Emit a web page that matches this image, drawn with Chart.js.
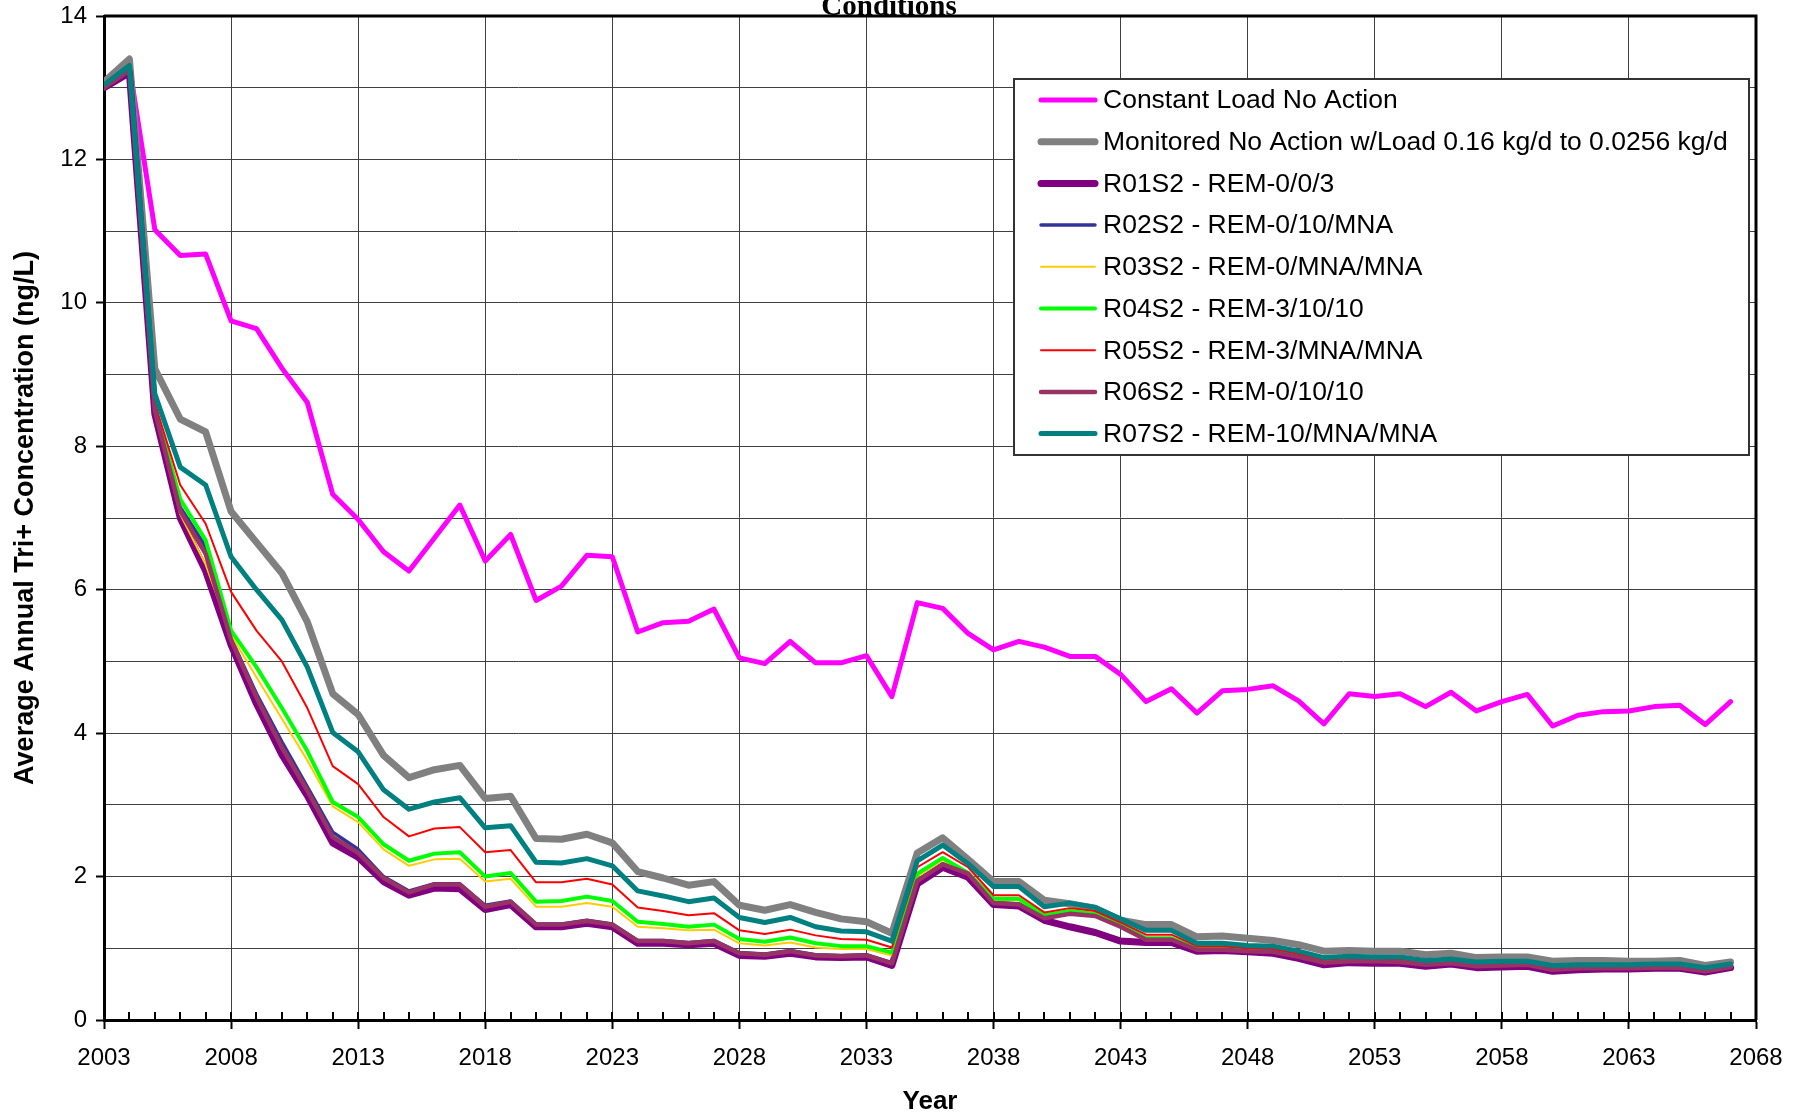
<!DOCTYPE html>
<html>
<head>
<meta charset="utf-8">
<script src="https://cdn.jsdelivr.net/npm/chart.js@4.4.1/dist/chart.umd.min.js"></script>
<style>
  html, body { margin: 0; padding: 0; background: #fff; }
</style>
</head>
<body>
<canvas id="canvasid" width="1808" height="1117"></canvas>
<script>
const years = [2003, 2004, 2005, 2006, 2007, 2008, 2009, 2010, 2011, 2012,
  2013, 2014, 2015, 2016, 2017, 2018, 2019, 2020, 2021, 2022,
  2023, 2024, 2025, 2026, 2027, 2028, 2029, 2030, 2031, 2032,
  2033, 2034, 2035, 2036, 2037, 2038, 2039, 2040, 2041, 2042,
  2043, 2044, 2045, 2046, 2047, 2048, 2049, 2050, 2051, 2052,
  2053, 2054, 2055, 2056, 2057, 2058, 2059, 2060, 2061, 2062,
  2063, 2064, 2065, 2066, 2067];

const constantLoad = [13.0, 13.3, 11.02, 10.66, 10.68, 9.75, 9.64, 9.09, 8.61, 7.33,
  6.98, 6.53, 6.26, 6.72, 7.18, 6.40, 6.77, 5.85, 6.05, 6.48,
  6.46, 5.41, 5.54, 5.56, 5.73, 5.05, 4.97, 5.28, 4.98, 4.98,
  5.08, 4.51, 5.82, 5.74, 5.39, 5.16, 5.28, 5.20, 5.07, 5.07,
  4.82, 4.44, 4.62, 4.28, 4.59, 4.61, 4.66, 4.45, 4.13, 4.55,
  4.51, 4.55, 4.37, 4.57, 4.31, 4.44, 4.54, 4.10, 4.25, 4.30,
  4.31, 4.37, 4.39, 4.12, 4.44];

const monitoredLoad = [13.08, 13.40, 9.08, 8.38, 8.20, 7.09, 6.66, 6.23, 5.55, 4.55,
  4.26, 3.69, 3.38, 3.49, 3.55, 3.09, 3.12, 2.53, 2.52, 2.59,
  2.47, 2.07, 1.98, 1.88, 1.93, 1.60, 1.53, 1.61, 1.50, 1.41,
  1.37, 1.21, 2.33, 2.54, 2.24, 1.93, 1.93, 1.67, 1.62, 1.56,
  1.39, 1.33, 1.33, 1.16, 1.17, 1.14, 1.11, 1.05, 0.96, 0.97,
  0.96, 0.96, 0.91, 0.93, 0.87, 0.88, 0.88, 0.82, 0.83, 0.83,
  0.82, 0.82, 0.83, 0.76, 0.81];

const r01 = [13.0, 13.21, 8.45, 7.0, 6.26, 5.23, 4.41, 3.70, 3.13, 2.47,
  2.27, 1.93, 1.74, 1.84, 1.83, 1.54, 1.61, 1.30, 1.30, 1.35,
  1.30, 1.07, 1.07, 1.05, 1.07, 0.90, 0.89, 0.93, 0.88, 0.87,
  0.88, 0.76, 1.90, 2.13, 1.99, 1.61, 1.59, 1.39, 1.30, 1.22,
  1.10, 1.08, 1.08, 0.96, 0.97, 0.95, 0.93, 0.86, 0.77, 0.80,
  0.79, 0.79, 0.75, 0.78, 0.73, 0.74, 0.75, 0.68, 0.70, 0.71,
  0.71, 0.72, 0.72, 0.67, 0.73];

const r02 = [13.0, 13.23, 8.5, 7.15, 6.6, 5.32, 4.55, 3.88, 3.25, 2.62,
  2.38, 2.0, 1.80, 1.90, 1.90, 1.60, 1.66, 1.34, 1.34, 1.39,
  1.34, 1.11, 1.11, 1.08, 1.11, 0.94, 0.92, 0.97, 0.91, 0.90,
  0.91, 0.80, 1.95, 2.18, 2.05, 1.64, 1.62, 1.43, 1.49, 1.46,
  1.31, 1.13, 1.13, 0.99, 0.99, 0.97, 0.96, 0.89, 0.81, 0.83,
  0.83, 0.82, 0.78, 0.80, 0.76, 0.77, 0.78, 0.71, 0.73, 0.73,
  0.73, 0.74, 0.74, 0.69, 0.75];

const r03 = [13.0, 13.25, 8.5, 7.05, 6.35, 5.37, 4.78, 4.20, 3.62, 2.98,
  2.76, 2.38, 2.15, 2.24, 2.25, 1.93, 1.97, 1.58, 1.58, 1.63,
  1.58, 1.30, 1.28, 1.25, 1.26, 1.07, 1.04, 1.08, 1.01, 0.99,
  0.99, 0.90, 2.00, 2.23, 2.03, 1.67, 1.67, 1.44, 1.50, 1.46,
  1.31, 1.12, 1.12, 0.99, 0.99, 0.97, 0.96, 0.89, 0.81, 0.83,
  0.83, 0.83, 0.78, 0.80, 0.76, 0.77, 0.77, 0.71, 0.72, 0.72,
  0.72, 0.73, 0.73, 0.68, 0.74];

const r04 = [13.0, 13.26, 8.55, 7.26, 6.69, 5.43, 4.92, 4.35, 3.75, 3.04,
  2.83, 2.45, 2.22, 2.32, 2.34, 2.00, 2.05, 1.65, 1.66, 1.72,
  1.66, 1.37, 1.34, 1.30, 1.33, 1.13, 1.09, 1.15, 1.07, 1.03,
  1.03, 0.94, 2.04, 2.26, 2.05, 1.69, 1.69, 1.46, 1.52, 1.48,
  1.33, 1.14, 1.14, 1.00, 1.00, 0.99, 0.97, 0.90, 0.82, 0.84,
  0.84, 0.84, 0.79, 0.81, 0.77, 0.78, 0.78, 0.72, 0.73, 0.73,
  0.73, 0.74, 0.74, 0.69, 0.75];

const r05 = [13.02, 13.28, 8.6, 7.46, 6.92, 5.97, 5.43, 5.00, 4.35, 3.54,
  3.29, 2.83, 2.56, 2.67, 2.69, 2.34, 2.37, 1.92, 1.92, 1.97,
  1.89, 1.57, 1.52, 1.46, 1.49, 1.25, 1.20, 1.26, 1.18, 1.13,
  1.12, 1.01, 2.13, 2.34, 2.13, 1.74, 1.74, 1.50, 1.56, 1.52,
  1.36, 1.19, 1.19, 1.03, 1.03, 1.00, 0.99, 0.92, 0.84, 0.86,
  0.85, 0.85, 0.80, 0.82, 0.78, 0.79, 0.79, 0.73, 0.74, 0.74,
  0.74, 0.75, 0.75, 0.70, 0.76];

const r06 = [13.0, 13.24, 8.5, 7.1, 6.5, 5.3, 4.5, 3.8, 3.2, 2.55,
  2.33, 1.98, 1.78, 1.89, 1.89, 1.58, 1.65, 1.33, 1.33, 1.38,
  1.33, 1.10, 1.10, 1.07, 1.10, 0.93, 0.91, 0.96, 0.90, 0.89,
  0.90, 0.79, 1.94, 2.17, 2.04, 1.63, 1.61, 1.42, 1.48, 1.45,
  1.30, 1.12, 1.12, 0.98, 0.98, 0.96, 0.95, 0.88, 0.80, 0.82,
  0.82, 0.81, 0.77, 0.79, 0.75, 0.76, 0.77, 0.70, 0.72, 0.72,
  0.72, 0.73, 0.73, 0.68, 0.74];

const r07 = [13.04, 13.31, 8.73, 7.71, 7.46, 6.46, 6.00, 5.58, 4.92, 4.01,
  3.74, 3.21, 2.94, 3.04, 3.10, 2.68, 2.71, 2.20, 2.19, 2.25,
  2.15, 1.80, 1.73, 1.65, 1.70, 1.43, 1.36, 1.43, 1.30, 1.24,
  1.23, 1.10, 2.22, 2.44, 2.18, 1.86, 1.86, 1.58, 1.63, 1.57,
  1.41, 1.25, 1.25, 1.07, 1.07, 1.04, 1.03, 0.96, 0.87, 0.89,
  0.88, 0.88, 0.83, 0.85, 0.81, 0.82, 0.82, 0.76, 0.77, 0.77,
  0.77, 0.78, 0.78, 0.73, 0.78];

const seriesNames = ["Constant Load No Action",
  "Monitored No Action w/Load 0.16 kg/d to 0.0256 kg/d",
  "R01S2 - REM-0/0/3", "R02S2 - REM-0/10/MNA", "R03S2 - REM-0/MNA/MNA",
  "R04S2 - REM-3/10/10", "R05S2 - REM-3/MNA/MNA", "R06S2 - REM-0/10/10",
  "R07S2 - REM-10/MNA/MNA"];
const seriesValues = [constantLoad, monitoredLoad, r01, r02, r03, r04, r05, r06, r07];
const seriesColors = ['#FF00FF', '#808080', '#800080', '#333399', '#FFCC00',
  '#00FF00', '#FF0000', '#993366', '#008080'];
const seriesWidths = [5, 7, 7, 3.5, 2, 4, 2, 4.5, 5];

const SANS = '"Liberation Sans", Arial, sans-serif';
Chart.defaults.font.family = SANS;
Chart.defaults.color = '#000';

// the clipped last line of the title
const titleLine = {
  id: 'titleLine',
  afterDraw(chart) {
    const ctx = chart.ctx;
    ctx.save();
    ctx.fillStyle = '#000';
    ctx.font = 'bold 29px "Liberation Serif", "Times New Roman", serif';
    ctx.textAlign = 'center';
    ctx.textBaseline = 'alphabetic';
    ctx.fillText('Conditions', 889, 15);
    ctx.restore();
  }
};

// top/right frame and the small year ticks
const frame = {
  id: 'frame',
  afterDraw(chart) {
    const {ctx, chartArea: a} = chart;
    const xs = chart.scales.x;
    ctx.save();
    ctx.strokeStyle = '#000';
    ctx.lineWidth = 3;
    ctx.beginPath();
    ctx.moveTo(a.left, a.top);
    ctx.lineTo(a.right, a.top);
    ctx.lineTo(a.right, a.bottom);
    ctx.stroke();
    ctx.lineWidth = 2;
    years.forEach(yr => {
      const px = Math.round(xs.getPixelForValue(yr));
      ctx.beginPath();
      ctx.moveTo(px, a.bottom);
      ctx.lineTo(px, a.bottom - 8);
      ctx.stroke();
    });
    ctx.restore();
  }
};

const boxLegend = {
  id: 'boxLegend',
  beforeDatasetsDraw(chart) {
    const ctx = chart.ctx;
    const left = 1014, top = 79, w = 735, h = 376;
    ctx.save();
    ctx.fillStyle = '#fff';
    ctx.fillRect(left, top, w, h);
    ctx.strokeStyle = '#333';
    ctx.lineWidth = 2;
    ctx.strokeRect(left, top, w, h);
    ctx.font = '26.5px ' + SANS;
    ctx.textBaseline = 'middle';
    chart.data.datasets.forEach((ds, i) => {
      const y = top + 21 + i * 41.7;
      ctx.strokeStyle = ds.borderColor;
      ctx.lineWidth = ds.borderWidth;
      ctx.lineCap = 'round';
      ctx.beginPath();
      ctx.moveTo(left + 27, y);
      ctx.lineTo(left + 81, y);
      ctx.stroke();
      ctx.fillStyle = '#000';
      ctx.fillText(ds.label, left + 89, y + 1);
    });
    ctx.restore();
  }
};

new Chart(document.getElementById('canvasid'), {
  type: 'line',
  data: {
    datasets: seriesNames.map((name, i) => ({
      label: name,
      data: years.map((yr, k) => ({x: yr, y: seriesValues[i][k]})),
      borderColor: seriesColors[i],
      backgroundColor: seriesColors[i],
      borderWidth: seriesWidths[i],
      pointRadius: 0,
      tension: 0,
      fill: false,
      borderJoinStyle: 'round',
      borderCapStyle: 'round',
      order: seriesNames.length - 1 - i
    }))
  },
  options: {
    responsive: false,
    animation: false,
    layout: { padding: { top: 16, right: 52, left: 0, bottom: 0 } },
    plugins: {
      legend: { display: false },
      tooltip: { enabled: false }
    },
    scales: {
      x: {
        type: 'linear',
        min: 2003,
        max: 2068,
        ticks: {
          stepSize: 5,
          maxTicksLimit: 100,
          maxRotation: 0,
          padding: 15,
          color: '#000',
          font: { size: 24 },
          callback: v => String(v)
        },
        grid: { color: '#404040', lineWidth: 1, tickLength: 9, tickWidth: 2, tickColor: '#000' },
        border: { color: '#000', width: 3 },
        title: {
          display: true,
          text: 'Year',
          color: '#000',
          font: { size: 26, weight: 'bold' },
          padding: { top: 0, bottom: 0 }
        },
        afterFit: s => { s.height = 97; }
      },
      y: {
        min: 0,
        max: 14,
        ticks: {
          stepSize: 1,
          maxTicksLimit: 100,
          autoSkip: false,
          padding: 9,
          color: '#000',
          font: { size: 24 },
          callback: v => (v % 2 === 0 ? v : '')
        },
        grid: {
          color: '#404040',
          lineWidth: 1,
          tickLength: 8,
          tickWidth: 2,
          tickColor: c => (c.tick && c.tick.value % 2 === 0 ? '#000' : 'rgba(0,0,0,0)')
        },
        border: { color: '#000', width: 3 },
        title: {
          display: true,
          text: 'Average Annual Tri+ Concentration (ng/L)',
          color: '#000',
          font: { size: 27, weight: 'bold' },
          padding: { top: 9, bottom: 0 }
        },
        afterFit: s => {
          s.width = 104;
          s.paddingTop = 0;
          s.paddingBottom = 0;
        }
      }
    }
  },
  plugins: [boxLegend, frame, titleLine]
});
</script>
</body>
</html>
